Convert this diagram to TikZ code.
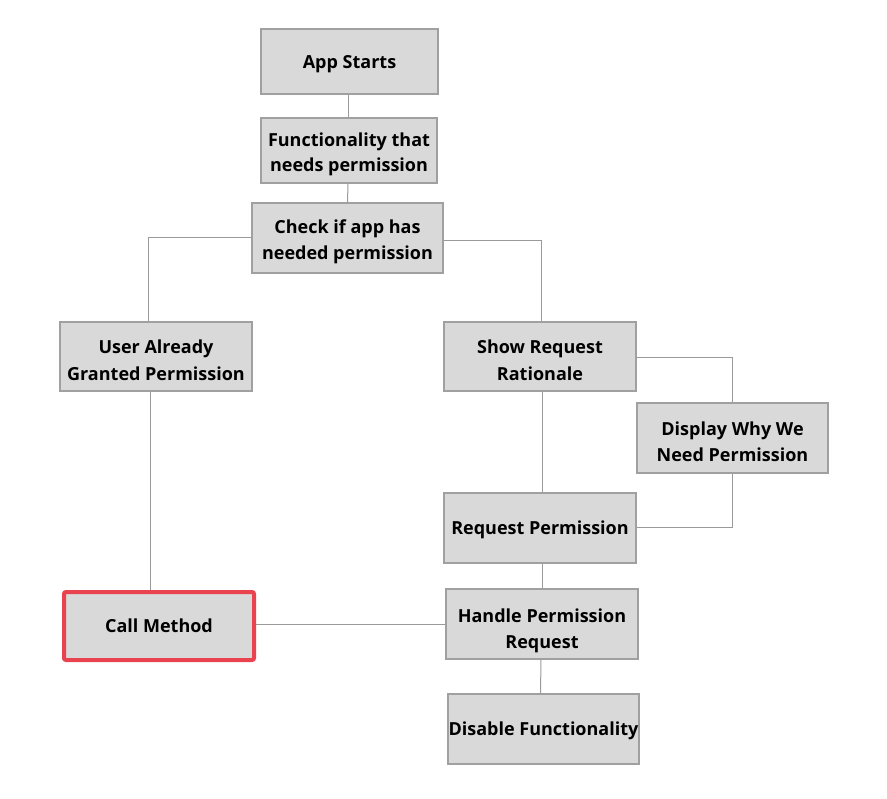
\documentclass[tikz,border=0pt]{standalone}
\usepackage{fontspec}
\setmainfont{Open Sans}
\definecolor{boxfill}{HTML}{D9D9D9}
\definecolor{boxline}{HTML}{A0A0A0}
\definecolor{conn}{HTML}{9A9A9A}
\definecolor{hilite}{HTML}{EA4350}
\tikzset{
  fbox/.style={draw=boxline, fill=boxfill, line width=1.2pt, inner sep=0pt,
    align=center, font=\fontsize{18}{26.5}\selectfont\bfseries},
  oneline/.style={text depth=-2pt},
  twoline/.style={text height=48pt},
  conline/.style={draw=conn, line width=1pt},
}
\begin{document}
\begin{tikzpicture}[x=1pt,y=-1pt]
\useasboundingbox (0,0) rectangle (887,799);
\fill[white] (0,0) rectangle (887,799);
% nodes: centre and size from pixel boxes
\node[fbox, oneline, minimum width=177pt, minimum height=65pt] (start) at (349.5,61.5) {App Starts};
\node[fbox, font=\fontsize{18}{25}\selectfont\bfseries, text height=46.5pt, minimum width=176pt, minimum height=65pt] (func) at (349,150.5) {Functionality that\\needs permission};
\node[fbox, twoline, minimum width=191pt, minimum height=70pt] (check) at (347.5,238) {Check if app has\\needed permission};
\node[fbox, twoline, minimum width=192pt, minimum height=69pt] (user) at (156,356.5) {User Already\\Granted Permission};
\node[fbox, twoline, minimum width=192pt, minimum height=69pt] (show) at (540,356.5) {Show Request\\Rationale};
\node[fbox, twoline, minimum width=191pt, minimum height=70pt] (why) at (732.5,438) {Display Why We\\Need Permission};
\node[fbox, oneline, minimum width=192pt, minimum height=70pt] (req) at (540,528) {Request Permission};
\node[fbox, oneline, draw=hilite, line width=4pt, rounded corners=2pt, minimum width=190pt, minimum height=68pt] (call) at (159,626) {Call Method};
\node[fbox, text height=54pt, minimum width=192pt, minimum height=70pt] (handle) at (542,624) {Handle Permission\\Request};
\node[fbox, oneline, minimum width=191pt, minimum height=70pt] (disable) at (543.5,729) {Disable Functionality};
% connectors
\draw[conline] ([xshift=-1.5pt]start.south) -- ([xshift=-1pt]func.north);
\draw[conline] ([xshift=-1pt]func.south) -- (check.north);
\draw[conline] (check.west) -| ([xshift=-8pt]user.north);
\draw[conline] ([yshift=-3pt]check.east) -| ([xshift=1pt]show.north);
\draw[conline] ([xshift=2pt]show.south) -- ([xshift=2pt]req.north);
\draw[conline] ([yshift=-1.5pt]show.east) -| (why.north);
\draw[conline] (why.south) |- (req.east);
\draw[conline] ([xshift=2pt]req.south) -- ([xshift=0pt]handle.north);
\draw[conline] ([xshift=-1pt]handle.south) -- ([xshift=-3pt]disable.north);
\draw[conline] ([xshift=-6pt]user.south) -- ([xshift=-6pt]user.south |- call.north);
\draw[conline] (handle.west) -- (handle.west -| call.east);
\end{tikzpicture}
\end{document}
